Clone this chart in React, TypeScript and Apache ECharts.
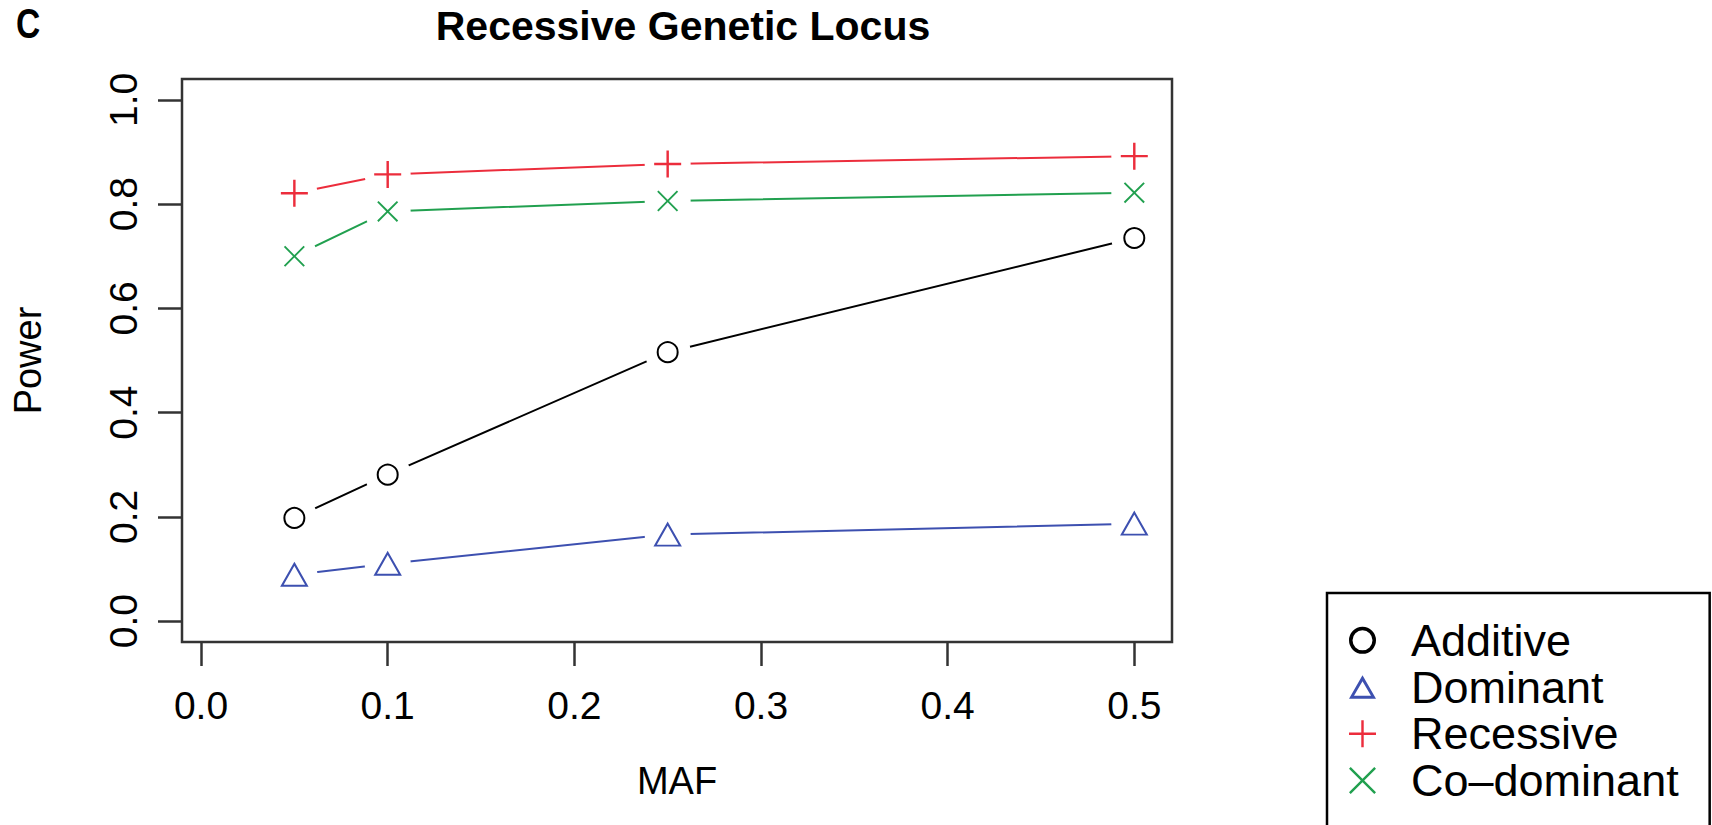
import React, { useEffect, useRef } from "react";
import * as echarts from "echarts";

// ---- data ----
const mafValues = [0.05, 0.1, 0.25, 0.5];
const additive = [0.198, 0.281, 0.516, 0.735];
const dominant = [0.089, 0.11, 0.166, 0.187];
const recessive = [0.821, 0.857, 0.877, 0.892];
const codominant = [0.7, 0.786, 0.806, 0.822];
const seriesNames = ["Additive", "Dominant", "Recessive", "Co\u2013dominant"];
const xTickValues = [0, 0.1, 0.2, 0.3, 0.4, 0.5];
const yTickValues = [0, 0.2, 0.4, 0.6, 0.8, 1.0];
const chartTitle = "Recessive Genetic Locus";
const panelLetter = "C";
const xAxisTitle = "MAF";
const yAxisTitle = "Power";

const FONT = "Liberation Sans, Arial, Helvetica, sans-serif";
const PLUS_PATH = "path://M0,45.5H100V54.5H0Z M45.5,0H54.5V100H45.5Z";
const X_PATH =
  "path://M0,6.4L6.4,0L50,43.6L93.6,0L100,6.4L56.4,50L100,93.6L93.6,100L50,56.4L6.4,100L0,93.6L43.6,50Z";
const RING_PATH =
  "path://M50,0A50,50 0 1,1 50,100A50,50 0 1,1 50,0Z M50,13A37,37 0 1,0 50,87A37,37 0 1,0 50,13Z";
const TRI_PATH =
  "path://M50,0L100,87L0,87Z M50,22L18.5,76L81.5,76Z";

export default function App() {
  const ref = useRef<HTMLDivElement>(null);

  useEffect(() => {
    if (!ref.current) return;
    const chart = echarts.init(ref.current, undefined, { renderer: "svg" });

    const defs = [
      { name: seriesNames[0], values: additive, color: "#000000", symbol: "emptyCircle", size: 20, legendIcon: RING_PATH },
      { name: seriesNames[1], values: dominant, color: "#3d50b0", symbol: "emptyTriangle", size: [25, 22], legendIcon: TRI_PATH },
      { name: seriesNames[2], values: recessive, color: "#ec2d3c", symbol: PLUS_PATH, size: 27, legendIcon: PLUS_PATH },
      { name: seriesNames[3], values: codominant, color: "#21a04f", symbol: X_PATH, size: 21, legendIcon: X_PATH },
    ];

    const series: any[] = [];
    defs.forEach((d) => {
      const pts = mafValues.map((x, i) => [x, d.values[i]]);
      series.push({
        type: "line",
        name: d.name + "_line",
        data: pts,
        showSymbol: false,
        symbol: "none",
        lineStyle: { color: d.color, width: 2 },
        z: 2,
        silent: true,
      });
      series.push({
        type: "scatter",
        name: d.name + "_gap",
        data: pts,
        symbol: "circle",
        symbolSize: 46,
        itemStyle: { color: "#ffffff", opacity: 1 },
        z: 3,
        silent: true,
      });
    });
    defs.forEach((d) => {
      const pts = mafValues.map((x, i) => [x, d.values[i]]);
      series.push({
        type: "scatter",
        name: d.name,
        data: pts,
        symbol: d.symbol,
        symbolSize: d.size,
        itemStyle:
          d.symbol.startsWith("empty")
            ? { color: d.color, borderColor: d.color, borderWidth: 2.5, opacity: 1 }
            : { color: d.color, opacity: 1 },
        z: 4,
      });
    });

    const option: any = {
      animation: false,
      backgroundColor: "#ffffff",
      textStyle: { fontFamily: FONT },
      title: {
        text: chartTitle,
        left: 683,
        textAlign: "center",
        top: 5,
        padding: 0,
        textStyle: { fontSize: 41, fontWeight: "bold", color: "#000", fontFamily: FONT },
      },
      graphic: [
        {
          type: "text",
          left: 16,
          top: 1,
          scaleX: 0.78,
          style: { text: panelLetter, fontSize: 43, fontWeight: "bold", fill: "#000", fontFamily: FONT },
        },
      ],
      legend: {
        orient: "vertical",
        left: 1327,
        top: 593,
        height: 400,
        padding: [24, 31, 40, 22],
        itemGap: 0,
        itemWidth: 27,
        itemHeight: 27,
        selectedMode: false,
        borderColor: "#000",
        borderWidth: 2.5,
        backgroundColor: "#fff",
        textStyle: { fontSize: 45, color: "#000", fontFamily: FONT, lineHeight: 46.7, padding: [0, 0, 0, 30] },
        data: defs.map((d) => ({
          name: d.name,
          icon: d.legendIcon,
          itemStyle: { color: d.color, borderWidth: 0, opacity: 1 },
        })),
      },
      grid: {
        left: 182,
        top: 79,
        width: 990,
        height: 563,
        show: true,
        borderColor: "#333",
        borderWidth: 2.5,
        backgroundColor: "transparent",
        containLabel: false,
      },
      xAxis: {
        type: "value",
        min: -0.0102,
        max: 0.5202,
        name: xAxisTitle,
        nameLocation: "middle",
        nameGap: 120,
        nameTextStyle: { fontSize: 38, color: "#000", fontFamily: FONT },
        axisLine: { show: false, onZero: false },
        splitLine: { show: false },
        axisTick: { show: true, customValues: xTickValues, length: 24, lineStyle: { color: "#333", width: 2.5 } },
        axisLabel: {
          customValues: xTickValues,
          formatter: (v: number) => v.toFixed(1),
          fontSize: 39,
          color: "#000",
          margin: 44,
          fontFamily: FONT,
        },
      },
      yAxis: {
        type: "value",
        min: -0.04,
        max: 1.04,
        name: yAxisTitle,
        nameLocation: "middle",
        nameGap: 135,
        nameRotate: 90,
        nameTextStyle: { fontSize: 38, color: "#000", fontFamily: FONT },
        axisLine: { show: false, onZero: false },
        splitLine: { show: false },
        axisTick: { show: true, customValues: yTickValues, length: 24, lineStyle: { color: "#333", width: 2.5 } },
        axisLabel: {
          customValues: yTickValues,
          formatter: (v: number) => v.toFixed(1),
          rotate: 90,
          fontSize: 39,
          color: "#000",
          margin: 39,
          fontFamily: FONT,
        },
      },
      series,
    };

    chart.setOption(option);
    return () => chart.dispose();
  }, []);

  return (
    <div
      ref={ref}
      style={{ position: "fixed", left: 0, top: 0, width: 1712, height: 825, background: "#fff" }}
    />
  );
}
